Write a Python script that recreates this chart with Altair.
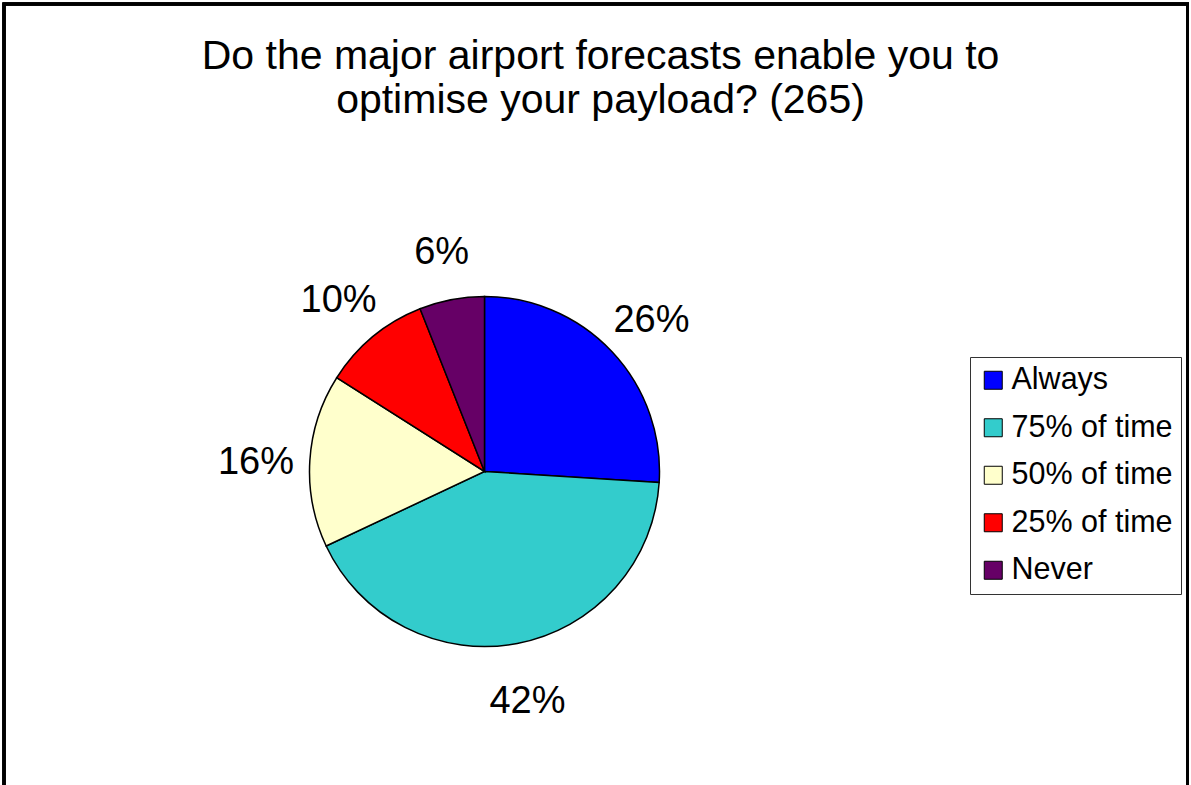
import altair as alt
import pandas as pd

categories = ["Always", "75% of time", "50% of time", "25% of time", "Never"]
percents = [26, 42, 16, 10, 6]
colors = ["#0000FF", "#33CCCC", "#FFFFCC", "#FF0000", "#660066"]
title_lines = ["Do the major airport forecasts enable you to", "optimise your payload? (265)"]

df = pd.DataFrame({
    "category": categories,
    "pct": percents,
    "idx": list(range(len(categories))),
    "label": [f"{p}%" for p in percents],
})

W, H = 1191, 785
CX, CY, R = 484.5, 471.5, 175
FONT = "Liberation Sans"

color_scale = alt.Scale(domain=categories, range=colors)

border = alt.Chart(df).mark_rect(fill=None, stroke="black", strokeWidth=3).encode(
    x=alt.value(4), x2=alt.value(1187.5), y=alt.value(4), y2=alt.value(H + 40)
)

pie = alt.Chart(df).mark_arc(stroke="black", strokeWidth=1.5, radius=R).encode(
    theta=alt.Theta("pct:Q", stack=True),
    order=alt.Order("idx:Q"),
    color=alt.Color(
        "category:N",
        scale=color_scale,
        sort=categories,
        legend=alt.Legend(
            title=None,
            orient="none",
            legendX=970,
            legendY=357,
            direction="vertical",
            symbolType="square",
            symbolSize=324,
            symbolStrokeColor="black",
            symbolStrokeWidth=1,
            labelFontSize=30.5,
            labelFont=FONT,
            labelColor="black",
            labelLimit=400,
            labelOffset=3,
            rowPadding=16.5,
            padding=8,
            strokeColor="#333333",
            fillColor="white",
        ),
    ),
    x=alt.value(CX),
    y=alt.value(CY),
)

labels = alt.Chart(df).mark_text(
    fontSize=38, font=FONT, color="black", radius=229, dy=6
).encode(
    theta=alt.Theta("pct:Q", stack=True),
    order=alt.Order("idx:Q"),
    text="label:N",
    x=alt.value(CX),
    y=alt.value(CY),
)

chart = alt.layer(border, pie, labels).properties(
    width=W,
    height=H,
    padding=0,
    autosize=alt.AutoSizeParams(type="none"),
    background="white",
    title=alt.TitleParams(
        text=title_lines,
        font=FONT,
        fontSize=41,
        fontWeight="normal",
        color="black",
        anchor="middle",
        baseline="alphabetic",
        lineHeight=44,
        offset=-154,
        dx=5,
    ),
).configure_view(stroke=None)

chart.save("out.html", embed_options={"renderer": "svg", "actions": False})
